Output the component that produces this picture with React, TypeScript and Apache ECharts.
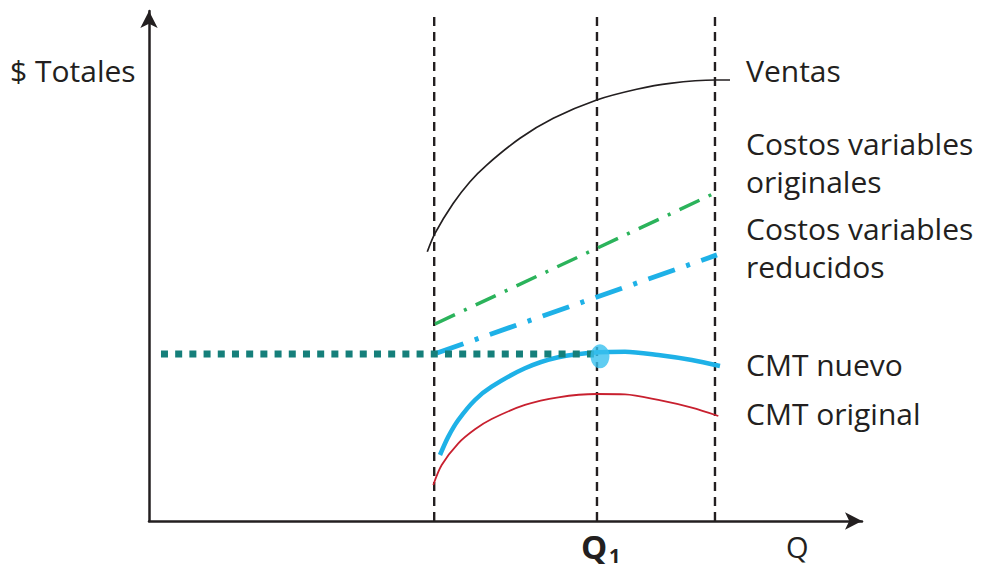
import React, { useEffect, useRef } from "react";
import * as echarts from "echarts";

// Data in chart units: x = quantity (0..100), y = $ totales (0..100)
const qLines = [40.0, 62.83, 79.38];
const qLineTop = 99.2;

const ventas: [number, number][] = [
  [39.03, 52.8], [40.11, 56.41], [42.68, 62.29], [45.02, 66.53], [47.36, 69.8], [52.03, 75.04],
  [56.7, 78.96], [62.79, 82.55], [68.4, 84.65], [73.07, 85.82], [79.38, 86.47], [81.49, 86.47],
];
const costosOriginales: [number, number][] = [[40.11, 38.63], [79.38, 64.31]];
const costosReducidos: [number, number][] = [[40.39, 32.94], [79.66, 52.16]];
const nivelCMT: [number, number][] = [[1.68, 32.75], [62.83, 32.75]];
const cmtNuevo: [number, number][] = [
  [40.81, 12.94], [41.98, 16.54], [43.38, 19.8], [45.72, 23.73], [48.06, 26.33], [52.73, 29.94],
  [57.41, 32.1], [63.02, 33.08], [66.76, 33.2], [71.43, 32.55], [76.12, 31.57], [80.08, 30.39],
];
const cmtOriginal: [number, number][] = [
  [39.87, 7.06], [41.05, 10.98], [43.38, 15.23], [45.72, 17.98], [48.06, 20.0], [52.73, 22.75],
  [57.41, 24.25], [62.79, 24.9], [66.76, 24.84], [71.43, 23.73], [76.12, 22.22], [79.85, 20.59],
];
const puntoQ1: [number, number][] = [[63.25, 32.29]];

const labels = ["Ventas", "Costos variables", "originales", "Costos variables", "reducidos", "CMT nuevo", "CMT original"];
const yTitle = "$ Totales";
const xTitle = "Q";

const FONT = '"Open Sans", "Noto Sans", sans-serif';
const INK = "#231f20";

export default function App() {
  const ref = useRef<HTMLDivElement>(null);
  useEffect(() => {
    if (!ref.current) return;
    const chart = echarts.init(ref.current, undefined, { renderer: "svg" });
    const lineSeries = (data: [number, number][], color: string, width: number, type: any, smooth: any = false, z = 2) => ({
      type: "line",
      data,
      smooth,
      symbol: "none",
      z,
      lineStyle: { color, width, type, cap: "butt" },
    });
    const labelPos = [70, 143, 181, 228, 266, 364, 413];
    const textEl = (text: string, x: number, y: number, size: number, weight = "normal") => ({
      type: "text",
      x,
      y,
      style: {
        text,
        fontSize: size,
        fontFamily: FONT,
        fontWeight: weight,
        fill: INK,
        align: "left",
        verticalAlign: "middle",
        textAlign: "left",
        textVerticalAlign: "middle",
      },
    });
    chart.setOption({
      animation: false,
      grid: { left: 149, top: 11, right: 119, bottom: 47 },
      xAxis: {
        type: "value", min: 0, max: 100,
        axisLine: { show: true, onZero: false, symbol: ["none", "arrow"], symbolSize: [13, 17], lineStyle: { color: INK, width: 2.5 } },
        axisTick: { show: false }, axisLabel: { show: false }, splitLine: { show: false },
      },
      yAxis: {
        type: "value", min: 0, max: 100,
        axisLine: { show: true, onZero: false, symbol: ["none", "arrow"], symbolSize: [13, 17], lineStyle: { color: INK, width: 2.5 } },
        axisTick: { show: false }, axisLabel: { show: false }, splitLine: { show: false },
      },
      series: [
        ...qLines.map((q) => lineSeries([[q, 0], [q, qLineTop]], INK, 2.4, [9, 6], false, 1)),
        lineSeries(ventas, INK, 1.7, "solid", 0.3),
        lineSeries(costosOriginales, "#2bb35b", 3.5, [22, 10, 3, 10]),
        lineSeries(costosReducidos, "#1eb1e7", 5, [28, 12, 4, 12]),
        lineSeries(nivelCMT, "#157f7a", 7, [7, 7.2], false, 3),
        lineSeries(cmtOriginal, "#c8202f", 1.8, "solid", 0.3),
        lineSeries(cmtNuevo, "#1eb1e7", 4.5, "solid", 0.3),
        {
          type: "scatter", data: puntoQ1, symbol: "circle", symbolSize: [19, 24], z: 4,
          itemStyle: { color: "#38c1ef" },
        },
      ],
      graphic: [
        textEl(yTitle, 10, 70, 30),
        ...labels.map((t, i) => textEl(t, 746, labelPos[i], 30)),
        textEl(xTitle, 786, 546, 29),
        textEl("Q", 581, 546, 33, "bold"),
        textEl("1", 609, 555, 20, "bold"),
      ],
    });
    return () => chart.dispose();
  }, []);
  return <div ref={ref} style={{ position: "absolute", left: 0, top: 0, width: 981, height: 568 }} />;
}
